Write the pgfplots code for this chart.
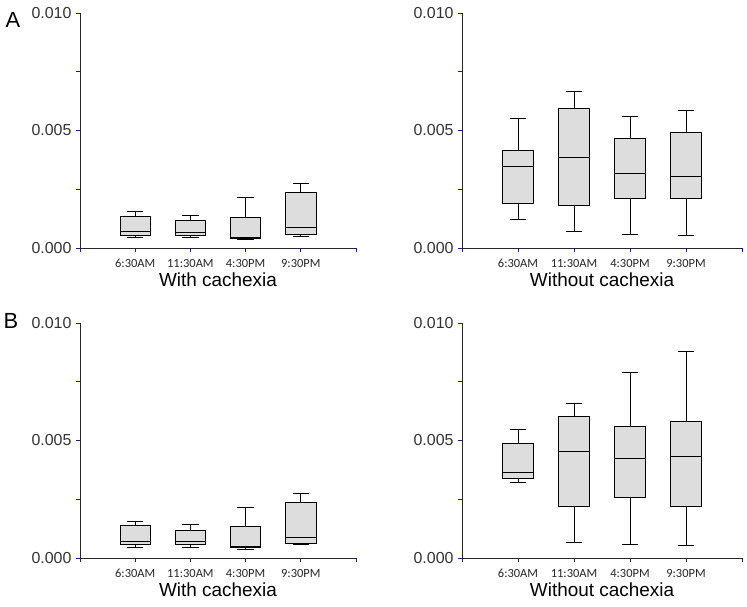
\documentclass[border=0pt]{standalone}
\usepackage{pgfplots}
\pgfplotsset{compat=1.18}
\usepgfplotslibrary{statistics}
\usepackage{fontspec}
\setmainfont{Liberation Sans}
\newfontfamily\calibri{Carlito}
\definecolor{boxgray}{RGB}{221,221,221}
\definecolor{ticknavy}{RGB}{30,30,110}
\pgfplotsset{
  panel/.style={
    scale only axis,
    height=235bp,
    xmin=0, xmax=5, ymin=0, ymax=0.01,
    axis x line*=bottom, axis y line*=left,
    axis line style={black!85, line width=0.8pt},
    tick align=outside,
    major tick length=4bp, minor tick length=4bp,
    every tick/.style={ticknavy, line width=0.8pt},
    xtick={0,1,2,3,4,5},
    xticklabels={,6:30AM,11:30AM,4:30PM,9:30PM,},
    ytick={0,0.005,0.01},
    minor ytick={0.0025,0.0075},
    yticklabels={0.000,0.005,0.010},
    scaled y ticks=false,
    x tick label style={font=\calibri\fontsize{12.5}{12.5}\selectfont, text=black!85, yshift=-4bp},
    y tick label style={font=\fontsize{16}{16}\selectfont, text=black!80, xshift=-1bp},
    xlabel style={font=\fontsize{19}{20}\selectfont, at={(axis description cs:0.5,0)}, anchor=north, yshift=-21bp},
    clip=false,
    boxplot/draw direction=y,
  },
  bx/.style={draw=black, line width=0.7pt, fill=boxgray, solid, mark=none},
}
\newcommand{\bp}[6]{%
  \addplot[bx, boxplot prepared={draw position=#1, lower whisker=#2, lower quartile=#3, median=#4, upper quartile=#5, upper whisker=#6, box extend=0.55, whisker extend=0.3}] coordinates {};}
\begin{document}
\begin{tikzpicture}
\path[use as bounding box] (0,0) rectangle (747bp,607bp);
% A left
\begin{axis}[panel, width=276bp, at={(80bp,359bp)}, anchor=south west, xlabel={With cachexia}]
\bp{1}{0.00044}{0.00054}{0.00070}{0.00134}{0.00154}
\bp{2}{0.00044}{0.00054}{0.00066}{0.00116}{0.00139}
\bp{3}{0.00036}{0.00043}{0.00046}{0.00131}{0.00216}
\bp{4}{0.00050}{0.00059}{0.00089}{0.00236}{0.00274}
\end{axis}
% A right
\begin{axis}[panel, width=280bp, at={(462bp,359bp)}, anchor=south west, xlabel={Without cachexia}]
\bp{1}{0.00121}{0.00190}{0.00348}{0.00414}{0.00552}
\bp{2}{0.00069}{0.00182}{0.00386}{0.00593}{0.00666}
\bp{3}{0.00058}{0.00211}{0.00317}{0.00465}{0.00562}
\bp{4}{0.00054}{0.00211}{0.00303}{0.00493}{0.00586}
\end{axis}
% B left
\begin{axis}[panel, width=276bp, at={(80bp,49bp)}, anchor=south west, xlabel={With cachexia}]
\bp{1}{0.00045}{0.00059}{0.00070}{0.00139}{0.00156}
\bp{2}{0.00045}{0.00059}{0.00069}{0.00118}{0.00142}
\bp{3}{0.00035}{0.00046}{0.00048}{0.00135}{0.00215}
\bp{4}{0.00056}{0.00062}{0.00090}{0.00237}{0.00275}
\end{axis}
% B right
\begin{axis}[panel, width=280bp, at={(462bp,49bp)}, anchor=south west, xlabel={Without cachexia}]
\bp{1}{0.00322}{0.00337}{0.00364}{0.00489}{0.00548}
\bp{2}{0.00066}{0.00221}{0.00454}{0.00601}{0.00660}
\bp{3}{0.00059}{0.00258}{0.00423}{0.00560}{0.00791}
\bp{4}{0.00052}{0.00221}{0.00431}{0.00581}{0.00881}
\end{axis}
\node[font=\fontsize{22}{22}\selectfont] at (13bp,587bp) {A};
\node[font=\fontsize{22}{22}\selectfont] at (11bp,286bp) {B};
\end{tikzpicture}
\end{document}
